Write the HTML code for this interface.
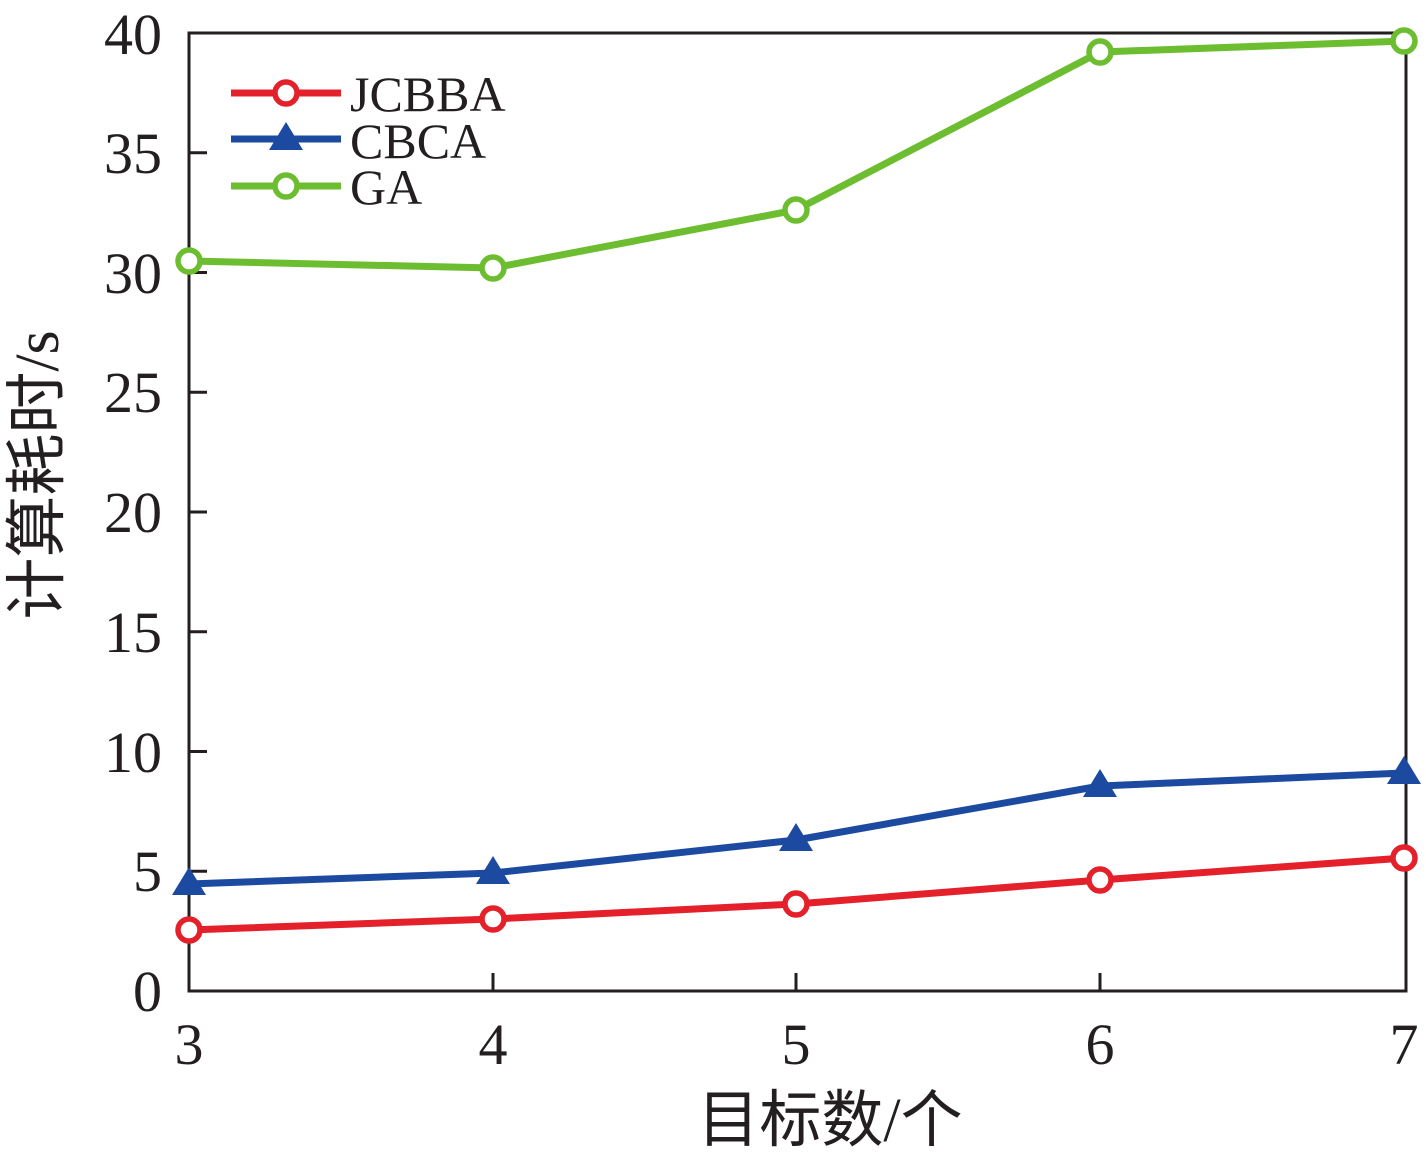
<!DOCTYPE html>
<html><head><meta charset="utf-8"><style>html,body{margin:0;padding:0;background:#fff}</style></head><body>
<svg width="1426" height="1159" viewBox="0 0 1426 1159" xmlns="http://www.w3.org/2000/svg" font-family="'Liberation Serif','Noto Serif CJK SC',serif" fill="#231f20">
<rect x="189" y="33" width="1217" height="958" fill="none" stroke="#231f20" stroke-width="3"/>
<g stroke="#231f20" stroke-width="3">
<line x1="189" y1="871.25" x2="207" y2="871.25"/><line x1="189" y1="751.5" x2="207" y2="751.5"/><line x1="189" y1="631.75" x2="207" y2="631.75"/><line x1="189" y1="512" x2="207" y2="512"/><line x1="189" y1="392.25" x2="207" y2="392.25"/><line x1="189" y1="272.5" x2="207" y2="272.5"/><line x1="189" y1="152.75" x2="207" y2="152.75"/>
<line x1="493" y1="991" x2="493" y2="973"/><line x1="796" y1="991" x2="796" y2="973"/><line x1="1100" y1="991" x2="1100" y2="973"/>
</g>
<g font-size="58" text-anchor="end">
<text x="162" y="1011">0</text><text x="162" y="891">5</text><text x="162" y="772">10</text><text x="162" y="652">15</text><text x="162" y="532">20</text><text x="162" y="412">25</text><text x="162" y="293">30</text><text x="162" y="173">35</text><text x="162" y="54">40</text>
</g>
<g font-size="58" text-anchor="middle">
<text x="189" y="1064">3</text><text x="493" y="1064">4</text><text x="796" y="1064">5</text><text x="1100" y="1064">6</text><text x="1404" y="1064">7</text>
</g>
<text x="830" y="1141" font-size="62" text-anchor="middle" font-family="'Liberation Serif','Noto Sans CJK SC',serif">目标数/个</text>
<text transform="translate(58,475) rotate(-90)" font-size="62" text-anchor="middle" font-family="'Liberation Serif','Noto Sans CJK SC',serif">计算耗时/s</text>
<g fill="none" stroke-width="7" stroke-linejoin="round">
<polyline stroke="#6cbd2f" points="189,261 493,268 796,210 1100,52 1404,41"/>
<polyline stroke="#1c4aa0" points="189,884 493,873 796,840 1100,786 1404,773"/>
<polyline stroke="#e4202a" points="189,930 493,919 796,904 1100,880 1404,858"/>
</g>
<g fill="#fff" stroke="#6cbd2f" stroke-width="5.5">
<circle cx="189" cy="261" r="11"/><circle cx="493" cy="268" r="11"/><circle cx="796" cy="210" r="11"/><circle cx="1100" cy="52" r="11"/><circle cx="1404" cy="41" r="11"/>
</g>
<g fill="#1c4aa0">
<polygon points="189,867 172,895 206,895"/><polygon points="493,856 476,884 510,884"/><polygon points="796,823 779,851 813,851"/><polygon points="1100,769 1083,797 1117,797"/><polygon points="1404,756 1387,784 1421,784"/>
</g>
<g fill="#fff" stroke="#e4202a" stroke-width="5.5">
<circle cx="189" cy="930" r="11"/><circle cx="493" cy="919" r="11"/><circle cx="796" cy="904" r="11"/><circle cx="1100" cy="880" r="11"/><circle cx="1404" cy="858" r="11"/>
</g>
<g stroke-width="7">
<line x1="231" y1="93" x2="341" y2="93" stroke="#e4202a"/><circle cx="286" cy="93" r="11" fill="#fff" stroke="#e4202a" stroke-width="5.5"/>
<line x1="231" y1="139" x2="341" y2="139" stroke="#1c4aa0"/><polygon points="286,122 269,150 303,150" fill="#1c4aa0"/>
<line x1="231" y1="186" x2="341" y2="186" stroke="#6cbd2f"/><circle cx="286" cy="186" r="11" fill="#fff" stroke="#6cbd2f" stroke-width="5.5"/>
</g>
<g font-size="50">
<text x="350" y="111">JCBBA</text><text x="350" y="158">CBCA</text><text x="350" y="204">GA</text>
</g>
</svg>
</body></html>
